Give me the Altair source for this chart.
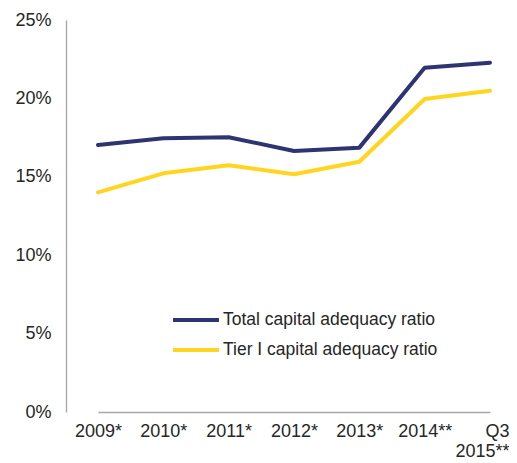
import altair as alt
import pandas as pd

categories = ["2009*", "2010*", "2011*", "2012*", "2013*", "2014**", "Q3 2015**"]
total_car = [17.03, 17.46, 17.52, 16.65, 16.86, 21.96, 22.28]
tier1_car = [14.01, 15.22, 15.73, 15.16, 15.96, 19.96, 20.49]
series = ["Total capital adequacy ratio", "Tier I capital adequacy ratio"]
colors = ["#2E3472", "#FFD51F"]
y_ticks = [0, 5, 10, 15, 20, 25]

rows = []
for i, c in enumerate(categories):
    rows.append({"year": c, "series": series[0], "value": total_car[i], "order": 0})
    rows.append({"year": c, "series": series[1], "value": tier1_car[i], "order": 1})
df = pd.DataFrame(rows)

FONT = "Liberation Sans"
TXT = "#262626"
LAST = "datum.label == 'Q3 2015**'"

chart = alt.Chart(df).mark_line(strokeWidth=4, strokeCap="round", strokeJoin="round").encode(
    x=alt.X("year:N", sort=categories, title=None,
            scale=alt.Scale(type="point", range=[32, 424], padding=0),
            axis=alt.Axis(labelAngle=0, ticks=False, labelPadding=10, labelFontSize=18,
                          labelFont=FONT, labelColor=TXT, labelLineHeight=20,
                          labelAlign={"condition": {"test": LAST, "value": "right"}, "value": "center"},
                          labelOffset={"condition": {"test": LAST, "value": 19}, "value": 0},
                          domainColor="#A6A6A6", domainWidth=1.3,
                          labelExpr="datum.label == 'Q3 2015**' ? ['Q3', '2015**'] : datum.label")),
    y=alt.Y("value:Q", title=None,
            scale=alt.Scale(domain=[0, 25], nice=False),
            axis=alt.Axis(values=y_ticks, grid=False, ticks=False, labelPadding=15,
                          labelFontSize=18, labelFont=FONT, labelColor=TXT,
                          domainColor="#A6A6A6", domainWidth=1.3,
                          labelExpr="datum.value + '%'")),
    color=alt.Color("series:N", sort=series, title=None,
                    scale=alt.Scale(domain=series, range=colors),
                    legend=alt.Legend(orient="none", legendX=105, legendY=288,
                                      symbolType="stroke", symbolSize=2116,
                                      symbolStrokeWidth=4, labelFontSize=17.5,
                                      labelFont=FONT, labelColor=TXT, labelOffset=2,
                                      labelLimit=400, clipHeight=24, rowPadding=6)),
    order="order:Q",
).properties(
    width=443, height=392,
    autosize=alt.AutoSizeParams(type="none"),
    padding={"left": 58, "top": 12, "right": 0, "bottom": 52},
).configure_view(stroke=None)

chart.save("out.html", embed_options={"renderer": "svg", "actions": False})
